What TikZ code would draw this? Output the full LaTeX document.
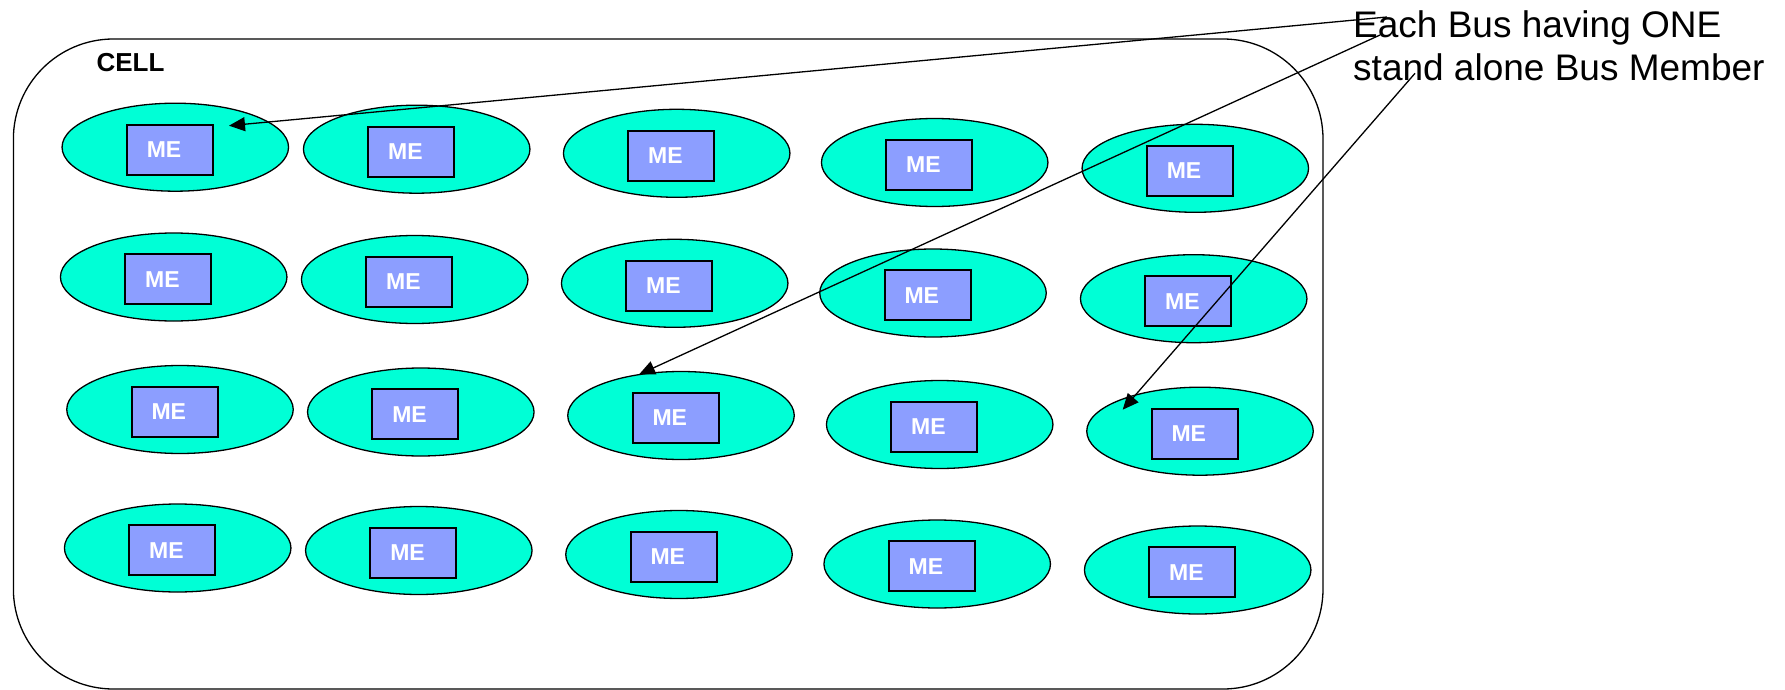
\documentclass[tikz,border=0pt]{standalone}
\usepackage{fontspec}
\setmainfont{Liberation Sans}
\usetikzlibrary{shapes.geometric,arrows.meta,calc}
\definecolor{busfill}{RGB}{0,255,214}
\definecolor{mefill}{RGB}{140,158,255}
\begin{document}
\begin{tikzpicture}[x=1pt,y=-1pt,
  bus/.style={ellipse,draw,line width=1.3pt,fill=busfill,
    minimum width=226.5pt,minimum height=88pt,inner sep=0pt},
  mebox/.style={rectangle,draw,line width=2pt,fill=mefill,
    minimum width=86pt,minimum height=50pt,inner sep=0pt,text=white,
    font=\fontsize{23}{23}\selectfont\bfseries},
  cellbox/.style={rectangle,draw,line width=1.3pt,rounded corners=100pt,
    minimum width=1309.6pt,minimum height=650pt,inner sep=0pt},
  pointer/.style={-{Triangle[length=16pt,width=14pt]},line width=1.3pt}]
\useasboundingbox (0,0) rectangle (1785,690);

% the cell that holds all the buses
\node[cellbox] (cell) at (668.2,364) {};
\node[anchor=base west,inner sep=0pt,font=\fontsize{26}{26}\selectfont\bfseries]
  (celltitle) at (96.4,71.7) {CELL};

% buses (ellipses), each with one messaging engine
\foreach \r/\c/\x/\y in {
  1/1/175.3/147.2, 1/2/416.7/149.2, 1/3/676.7/153.3, 1/4/934.7/162.5, 1/5/1195.3/168.3,
  2/1/173.7/277.0, 2/2/414.7/279.5, 2/3/674.7/283.3, 2/4/933.0/293.0, 2/5/1193.7/298.7,
  3/1/180.0/409.5, 3/2/420.8/412.0, 3/3/681.0/415.5, 3/4/939.7/424.5, 3/5/1200.0/431.2,
  4/1/177.7/548.0, 4/2/418.8/550.5, 4/3/679.0/554.5, 4/4/937.2/564.0, 4/5/1197.7/570.0}{
  \node[bus] (b\r\c) at (\x,\y) {};
  \node[mebox] (m\r\c) at ($(b\r\c)+(-5.5,2.4)$) {ME\hspace*{11.5pt}};
}

% annotation
\node[anchor=north west,inner sep=0pt,align=left,
  font=\fontsize{37}{43}\selectfont] (note) at (1353,10)
  {Each Bus having ONE\\stand alone Bus Member};

\coordinate (s1) at (1387,17);
\coordinate (s2) at (1380,35);
\coordinate (s3) at (1415,73.3);

\draw[pointer] (s1) -- ($(b11)+(53.7,-21.5)$);
\draw[pointer] (s2) -- ($(b33)+(-42,-41)$);
\draw[pointer] (s3) -- ($(b35)+(-77.3,-21.5)$);
\end{tikzpicture}
\end{document}
